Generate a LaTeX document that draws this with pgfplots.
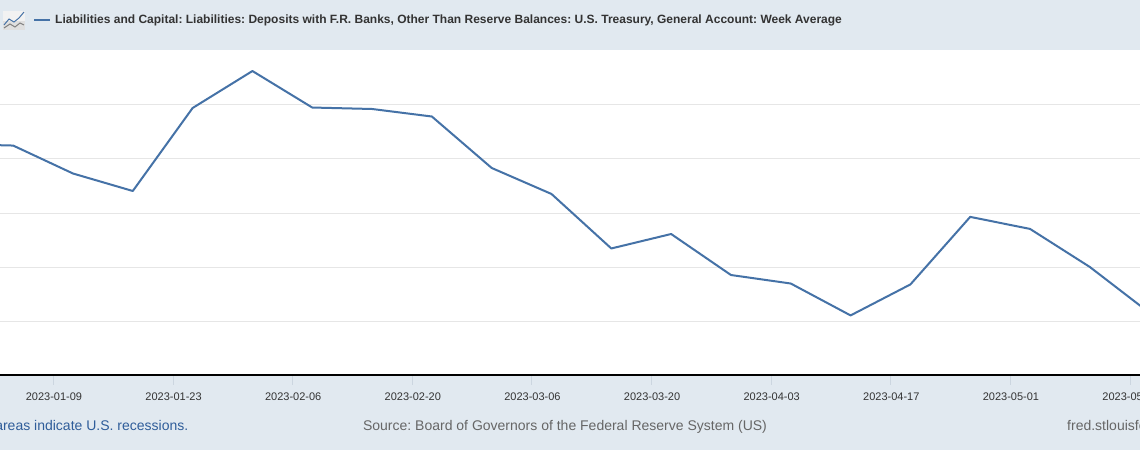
\documentclass[border=0pt]{standalone}
\usepackage{fontspec}
\setmainfont{Liberation Sans}
\usepackage{pgfplots}
\pgfplotsset{compat=1.18}
\usepackage{pgfplotstable}

\definecolor{band}{HTML}{E1E9F0}
\definecolor{fredline}{HTML}{4572A7}
\definecolor{gridc}{HTML}{E6E6E6}
\definecolor{tickc}{HTML}{CCD6E0}
\definecolor{labelc}{HTML}{333333}
\definecolor{footc}{HTML}{666666}
\definecolor{linkc}{HTML}{2F5D9A}

% day of 2023 (Jan 1 = 1), billions of dollars (week average)
\pgfplotstableread{
day val
-3  426.4
4   423.6
11  372.0
18  339.7
25  492.9
32  561.2
39  493.8
46  491.1
53  477.2
60  382.2
67  334.2
74  233.6
81  260.3
88  184.6
95  168.9
102 110.0
109 167.2
116 291.9
123 269.7
130 199.4
137 114.5
}\tga

\begin{document}
\frenchspacing
\begin{tikzpicture}
% page is 1140x450, y=0 is the bottom of the plot area (px 375)
\path[use as bounding box] (0,-75pt) rectangle (1140pt,375pt);
\clip (0,-75pt) rectangle (1140pt,375pt);
\fill[band] (0,-75pt) rectangle (1140pt,375pt);

\begin{axis}[
    at={(0,0)}, anchor=south west,
    scale only axis,
    width=1140pt, height=325pt,
    xmin=2.46, xmax=135.87,
    ymin=0, ymax=600,
    clip=false,
    axis background/.style={fill=white},
    axis x line*=bottom,
    axis y line*=left,
    y axis line style={draw=none},
    x axis line style={black, line width=2pt, -},
    xtick={8.7,22.7,36.7,50.7,64.7,78.7,92.7,106.7,120.7,134.7},
    xticklabels={2023-01-09,2023-01-23,2023-02-06,2023-02-20,2023-03-06,2023-03-20,2023-04-03,2023-04-17,2023-05-01,2023-05-15},
    xticklabel style={font=\fontsize{11}{13}\selectfont, text=labelc, yshift=-14pt, xshift=0.6pt},
    major tick length=0pt,
    ytick={99,199,299,399,499},
    yticklabels={},
    ymajorgrids,
    grid style={gridc, line width=1pt},
]
\addplot[fredline, line width=2pt, line join=round] table[x=day, y=val] {\tga};
% pale tick dashes under the axis line
\pgfplotsinvokeforeach{8.7,22.7,36.7,50.7,64.7,78.7,92.7,106.7,120.7,134.7}{
  \draw[tickc, line width=0.8pt] ([yshift=-1pt]axis cs:#1,0) -- ([yshift=-10pt]axis cs:#1,0);
}
\end{axis}

% legend strip
\draw[fredline, line width=2pt] (34pt,355pt) -- (50pt,355pt);
\node[anchor=base west, inner sep=0pt, text=labelc, font=\fontsize{12}{13}\selectfont\bfseries] at (55pt,351pt)
  {Liabilities and Capital: Liabilities: Deposits with F.R. Banks, Other Than Reserve Balances: U.S. Treasury, General Account: Week Average};

% small chart icon
\fill[white!75!gray] (3pt,345pt) rectangle (25pt,364pt);
\fill[white!90!gray] (3pt,354pt) rectangle (25pt,364pt);
\draw[gray, line width=1pt] (4pt,347pt) -- (10pt,351pt) -- (15pt,348pt) -- (20pt,352pt) -- (24pt,350pt);
\draw[fredline, line width=1pt] (4pt,350pt) -- (9pt,356pt) -- (14pt,353pt) -- (19pt,357pt) -- (24pt,363pt);

% footer
\node[anchor=base east, inner sep=0pt, text=linkc, font=\fontsize{14}{16}\selectfont] at (188.5pt,-55pt)
  {Shaded areas indicate U.S. recessions.};
\node[anchor=base, inner sep=0pt, text=footc, font=\fontsize{14}{16}\selectfont] at (565pt,-55pt)
  {Source: Board of Governors of the Federal Reserve System (US)};
\node[anchor=base west, inner sep=0pt, text=footc, font=\fontsize{14}{16}\selectfont] at (1067pt,-55pt)
  {fred.stlouisfed.org};
\end{tikzpicture}
\end{document}
